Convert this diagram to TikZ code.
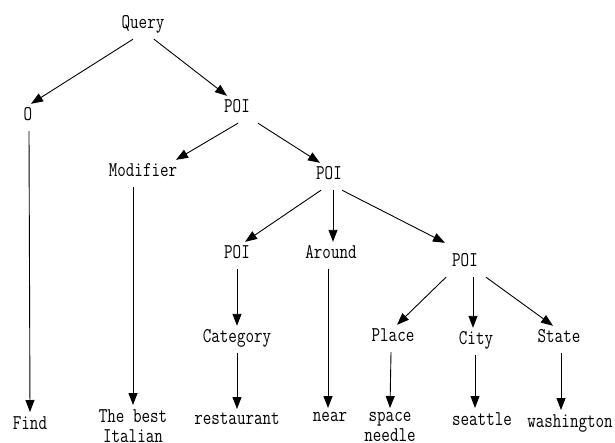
\documentclass[tikz,border=0pt]{standalone}
\usepackage{fontspec}
\newfontfamily\treefont[FakeStretch=0.79]{Latin Modern Mono}
\usetikzlibrary{arrows.meta, positioning}

\begin{document}
\begin{tikzpicture}[x=1pt, y=-1pt, >={Triangle[length=12pt, width=9pt]},
        tag/.style={inner sep=0pt, anchor=base, text height=16.5pt, text depth=10.5pt, font=\treefont\fontsize{21}{20}\selectfont},
        word/.style={inner xsep=0pt, inner ysep=4pt, anchor=north, align=center, font=\treefont\fontsize{21}{20}\selectfont},
        arr/.style={->, line width=0.9pt}]
        \useasboundingbox (0,0) rectangle (615,442);
        % inner nodes
        \node[tag] (query) at (143,28.5) {Query};
        \node[tag] (o) at (28,120.5) {O};
        \node[tag] (poi1) at (237,112.5) {POI};
        \node[tag] (modi) at (143,176.5) {Modifier};
        \node[tag] (poi2) at (329,179.5) {POI};
        \node[tag] (poi3) at (237,258.5) {POI};
        \node[tag] (around) at (331,258.5) {Around};
        \node[tag] (poi4) at (465,266.5) {POI};
        \node[tag] (cat) at (237,342.5) {Category};
        \node[tag] (place) at (393,341.5) {Place};
        \node[tag] (city) at (476,344.5) {City};
        \node[tag] (state) at (559,342.5) {State};
        % leaves
        \node[word] (find) at (30,412) {Find};
        \node[word] (best) at (133,405) {The best\\Italian};
        \node[word] (rest) at (237,409) {restaurant};
        \node[word] (near) at (330,408) {near};
        \node[word] (space) at (390,408) {space\\needle};
        \node[word] (seattle) at (482,408) {seattle};
        \node[word] (wash) at (570,410) {washington};
        % edges
        \draw[arr] ([xshift=-10pt]query.south) -- ([xshift=3pt]o.north);
        \draw[arr] ([xshift=11pt]query.south) -- ([xshift=-10pt]poi1.north);
        \draw[arr] ([xshift=1pt]poi1.south) -- ([xshift=33pt]modi.north);
        \draw[arr] ([xshift=21pt]poi1.south) -- ([xshift=-9pt]poi2.north);
        \draw[arr] ([xshift=-8pt]poi2.south) -- ([xshift=8pt]poi3.north);
        \draw[arr] ([xshift=4pt]poi2.south) -- ([xshift=2pt]around.north);
        \draw[arr] ([xshift=13pt]poi2.south) -- ([xshift=-20pt, yshift=7pt]poi4.north);
        \draw[arr] (poi3.south) -- (cat.north);
        \draw[arr] ([xshift=-19pt]poi4.south) -- ([xshift=4pt]place.north);
        \draw[arr] ([xshift=8pt]poi4.south) -- ([xshift=-3pt]city.north);
        \draw[arr] ([xshift=21pt]poi4.south) -- ([xshift=-6pt]state.north);
        \draw[arr] ([xshift=1pt]o.south) -- (find.north);
        \draw[arr] ([xshift=-10pt]modi.south) -- (best.north);
        \draw[arr] (cat.south) -- (rest.north);
        \draw[arr] ([xshift=-3pt]around.south) -- ([xshift=-2pt]near.north);
        \draw[arr] ([xshift=-2pt]place.south) -- (space.north);
        \draw[arr] ([xshift=-1pt]city.south) -- ([xshift=-7pt]seattle.north);
        \draw[arr] ([xshift=2pt]state.south) -- ([xshift=-9pt]wash.north);
    \end{tikzpicture}
\end{document}
